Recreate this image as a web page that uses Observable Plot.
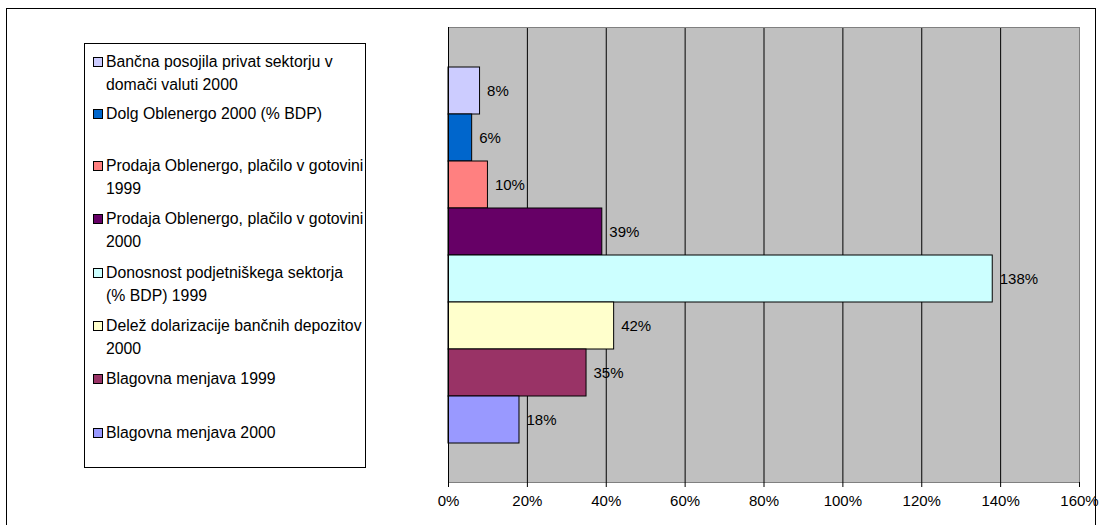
<!DOCTYPE html>
<html>
<head>
<meta charset="utf-8">
<script src="https://cdn.jsdelivr.net/npm/d3@7"></script>
<script src="https://cdn.jsdelivr.net/npm/@observablehq/plot@0.6"></script>
<style>
  body { margin: 0; background: #fff; font-family: "Liberation Sans", Arial, sans-serif; }
  #wrap { position: relative; width: 1099px; height: 525px; overflow: hidden; }
  #outer { position: absolute; left: 6px; top: 8px; width: 1090px; height: 540px; border: 1px solid #000; box-sizing: border-box; }
  #chart { position: absolute; left: 0; top: 0; }
  #legend { position: absolute; left: 84px; top: 43px; width: 282px; height: 425px; border: 1px solid #000; box-sizing: border-box; background: #fff; }
  .item { position: absolute; left: 2px; width: 280px; font-size: 15.8px; line-height: 23px; color: #000; }
  .sw { position: absolute; left: 6px; top: 7px; width: 8px; height: 8px; border: 1px solid #000; }
  .lbl { position: absolute; left: 19px; width: 262px; }
</style>
</head>
<body>
<div id="wrap">
  <div id="outer"></div>
  <div id="chart"></div>
  <div id="legend"></div>
</div>
<script>
// Data
const series = [
  "Bančna posojila privat sektorju v domači valuti 2000",
  "Dolg Oblenergo 2000 (%\u00A0BDP)",
  "Prodaja Oblenergo, plačilo v gotovini 1999",
  "Prodaja Oblenergo, plačilo v gotovini 2000",
  "Donosnost podjetniškega sektorja (%\u00A0BDP) 1999",
  "Delež dolarizacije bančnih depozitov 2000",
  "Blagovna menjava 1999",
  "Blagovna menjava 2000"
];
const values = [8, 6, 10, 39, 138, 42, 35, 18];
const xTicks = [0, 20, 40, 60, 80, 100, 120, 140, 160];

// Styles
const colors = ["#CCCCFF", "#0066CC", "#FF8080", "#660066", "#CCFFFF", "#FFFFCC", "#993366", "#9999FF"];
const legendTops = [50, 102, 154, 207, 261, 314, 367, 421];

const data = series.map((name, i) => ({name, value: values[i]}));

const chart = Plot.plot({
  width: 1099,
  height: 525,
  marginLeft: 448,
  marginRight: 20,
  marginTop: 27,
  marginBottom: 43,
  style: {fontFamily: "'Liberation Sans', Arial, sans-serif", fontSize: "15px", background: "transparent", color: "#000"},
  x: {domain: [0, 160], ticks: xTicks, tickFormat: d => d + "%", tickSize: 5, tickPadding: 9, label: null},
  y: {domain: series, axis: null, paddingInner: 0, paddingOuter: 0.75},
  color: {domain: series, range: colors},
  marks: [
    Plot.frame({fill: "#C0C0C0", stroke: null}),
    Plot.gridX(xTicks.slice(1, -1), {stroke: "#000", strokeOpacity: 1}),
    Plot.barX(data, {x: "value", y: "name", fill: "name", stroke: "#000", strokeWidth: 1, inset: 0}),
    Plot.text(data, {x: "value", y: "name", text: d => d.value + "%", dx: 7, textAnchor: "start", fill: "#000", fontSize: 15}),
    Plot.frame({stroke: "#808080", fill: null}),
    Plot.ruleX([0], {stroke: "#000"}),
    Plot.ruleY([0], {stroke: "#000", frameAnchor: "bottom"}),
    Plot.axisX({ticks: xTicks, tickFormat: d => d + "%", tickSize: 5, tickPadding: 8, stroke: "#000", fontSize: 15})
  ]
});
document.getElementById("chart").appendChild(chart);

// Legend
const legend = document.getElementById("legend");
series.forEach((name, i) => {
  const item = document.createElement("div");
  item.className = "item";
  item.style.top = (legendTops[i] - 44) + "px";
  const sw = document.createElement("div");
  sw.className = "sw";
  sw.style.background = colors[i];
  const lbl = document.createElement("div");
  lbl.className = "lbl";
  lbl.textContent = name;
  item.appendChild(sw);
  item.appendChild(lbl);
  legend.appendChild(item);
});
</script>
</body>
</html>
